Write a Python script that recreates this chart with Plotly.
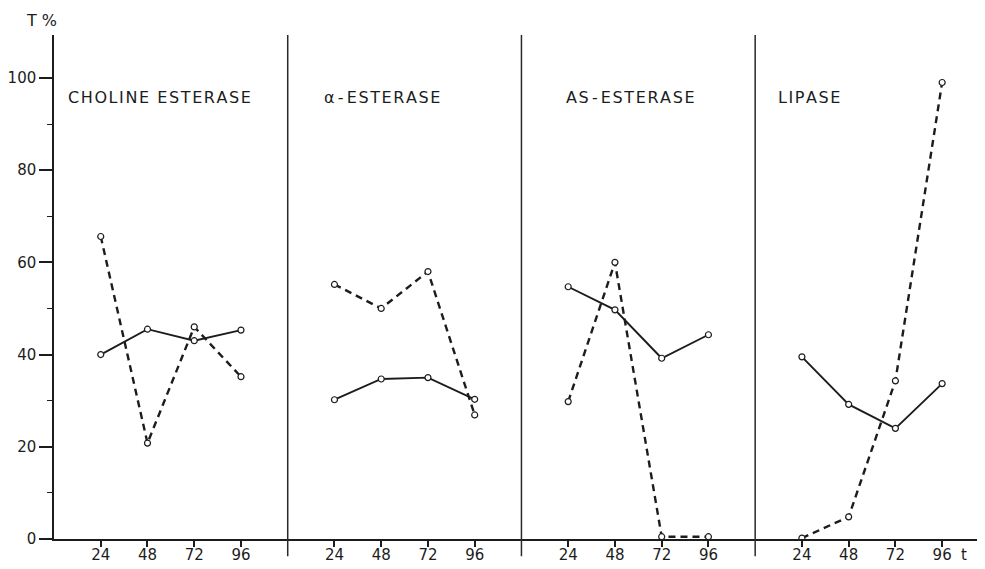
import plotly.graph_objects as go

# ---- data ----
hours = [24, 48, 72, 96]

choline_solid = [40, 45.5, 43, 45.3]
choline_dashed = [65.6, 20.8, 46, 35.2]
alpha_solid = [30.2, 34.7, 35, 30.3]
alpha_dashed = [55.2, 50, 58, 26.9]
as_solid = [54.7, 49.7, 39.2, 44.3]
as_dashed = [29.8, 60, 0.5, 0.5]
lipase_solid = [39.5, 29.2, 24, 33.7]
lipase_dashed = [0.2, 4.8, 34.3, 99]

y_ticks = [0, 20, 40, 60, 80, 100]
x_tick_labels = ["24", "48", "72", "96"]

solid_series = [choline_solid, alpha_solid, as_solid, lipase_solid]
dashed_series = [choline_dashed, alpha_dashed, as_dashed, lipase_dashed]

PANEL_WIDTH = 120  # hours span of each panel on the shared axis
TITLE_OFFSETS = [6, 17.5, 21.8, 10.5]
INK = "#1c1c1c"
FONT = "DejaVu Sans"

HS = "\u200a"   # hair space
TS = "\u2009"   # thin space


def spaced(text):
    # widen letter spacing with hair spaces
    return HS.join(text)


panel_titles = [
    spaced("CHOLINE") + HS + " " + HS + spaced("ESTERASE"),
    "α" + TS + "-" + TS + spaced("ESTERASE"),
    spaced("AS") + TS + "-" + TS + spaced("ESTERASE"),
    spaced("LIPASE"),
]

fig = go.Figure()

for i in range(4):
    xs = [PANEL_WIDTH * i + h for h in hours]
    fig.add_trace(go.Scatter(
        x=xs, y=solid_series[i], mode="lines+markers",
        line=dict(color=INK, width=1.9),
        marker=dict(symbol="circle", size=6, color="white",
                    line=dict(color=INK, width=1.2)),
        showlegend=False, hoverinfo="skip"))
    fig.add_trace(go.Scatter(
        x=xs, y=dashed_series[i], mode="lines+markers",
        line=dict(color=INK, width=2.4, dash="7px,5px"),
        marker=dict(symbol="circle", size=6, color="white",
                    line=dict(color=INK, width=1.2)),
        showlegend=False, hoverinfo="skip"))

tickvals = [PANEL_WIDTH * i + h for i in range(4) for h in hours]
ticktext = x_tick_labels * 4

shapes = []
for i in range(1, 4):
    shapes.append(dict(type="line", xref="x", yref="paper",
                       x0=PANEL_WIDTH * i, x1=PANEL_WIDTH * i,
                       y0=-0.034, y1=1.0,
                       line=dict(color="#2a2a2a", width=1.5)))

annotations = []
for i, t in enumerate(panel_titles):
    annotations.append(dict(
        x=PANEL_WIDTH * i + TITLE_OFFSETS[i], y=95.8, xref="x", yref="y",
        text=t, showarrow=False, xanchor="left", yanchor="middle",
        font=dict(family=FONT, size=16, color=INK)))
annotations.append(dict(
    x=0, y=1, xref="paper", yref="paper", text="T %", showarrow=False,
    xanchor="center", yanchor="bottom", xshift=-13, yshift=3,
    font=dict(family=FONT, size=16, color=INK)))
annotations.append(dict(
    x=467, y=0, xref="x", yref="y", text="t", showarrow=False,
    xanchor="center", yanchor="top", yshift=-5,
    font=dict(family=FONT, size=15, color=INK)))

# page body adds an 8px margin, so the figure is sized to fit the window
fig.update_layout(
    width=977, height=561,
    margin=dict(l=44, r=0, t=27, b=30),
    paper_bgcolor="white", plot_bgcolor="white",
    shapes=shapes, annotations=annotations,
    xaxis=dict(range=[0, 478], tickvals=tickvals, ticktext=ticktext,
               showgrid=False, zeroline=False, showline=True,
               linecolor=INK, linewidth=1.5, ticks="outside",
               ticklen=6, tickwidth=1.5, tickcolor=INK,
               ticklabelstandoff=-5,
               tickfont=dict(family=FONT, size=15, color=INK)),
    yaxis=dict(range=[0, 109.3], tickvals=y_ticks,
               showgrid=False, zeroline=False, showline=True,
               linecolor=INK, linewidth=1.5, ticks="outside",
               ticklen=13, tickwidth=1.5, tickcolor=INK,
               tickfont=dict(family=FONT, size=15, color=INK),
               minor=dict(dtick=10, ticks="outside", ticklen=5,
                          tickwidth=1.2, tickcolor=INK)),
)

fig.write_html("out.html")
